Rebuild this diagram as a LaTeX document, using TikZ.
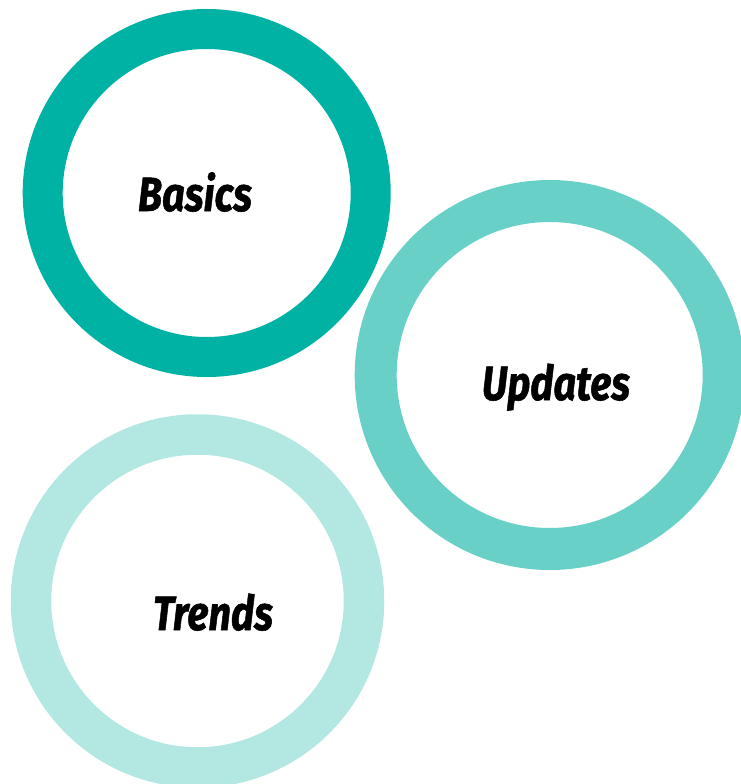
\documentclass[tikz,border=0pt]{standalone}
\usepackage{fontspec}
\setmainfont{Fira Sans}[BoldItalicFeatures={FakeBold=1.2}]
\definecolor{ringA}{RGB}{0,178,163}
\definecolor{ringB}{RGB}{104,208,198}
\definecolor{ringC}{RGB}{179,232,226}
\newcommand\fitword[2]{\resizebox{#1}{\height}{\fontsize{48}{48}\selectfont\bfseries\itshape #2}}
\tikzset{
  ring/.style={circle, inner sep=0pt, outer sep=0pt},
  label/.style={anchor=base west, inner sep=0pt, outer sep=0pt, text=black}
}
\begin{document}
\begin{tikzpicture}[x=1pt, y=-1pt]
  \useasboundingbox (0,0) rectangle (741,784);
  \clip (0,0) rectangle (741,784);
  \node[ring, draw=ringA, line width=40pt, minimum size=328pt] (basicsring) at (206.7,193) {};
  \node[ring, draw=ringB, line width=42pt, minimum size=348pt] (updatesring) at (549.7,375) {};
  \node[ring, draw=ringC, line width=40.5pt, minimum size=333pt] (trendsring) at (197.5,601) {};
  \node[label] (basics) at (138,211) {\fitword{114pt}{Basics}};
  \node[label] (updates) at (482,400) {\fitword{148pt}{Updates}};
  \node[label] (trends) at (153,630) {\fitword{120pt}{Trends}};
\end{tikzpicture}
\end{document}
